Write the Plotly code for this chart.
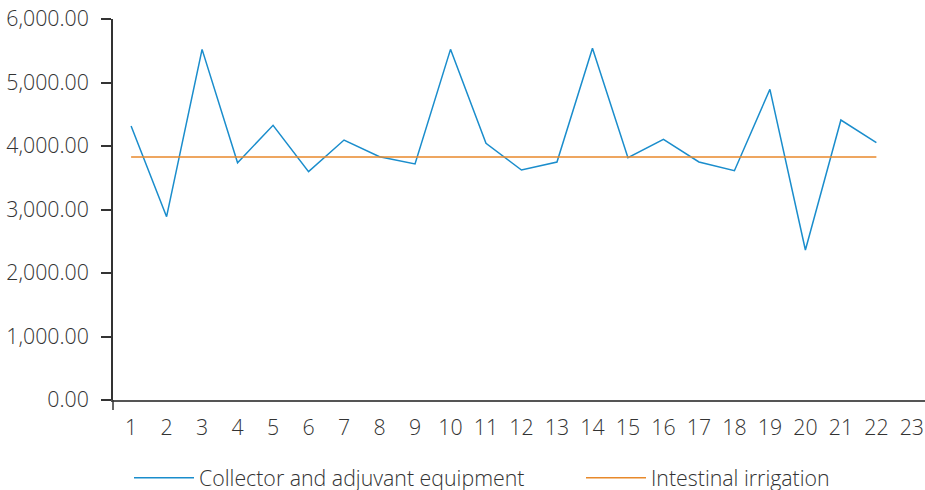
import plotly.graph_objects as go

categories = [str(i) for i in range(1, 24)]
collector = [4315, 2887, 5522, 3737, 4326, 3596, 4094, 3832, 3717, 5522, 4042,
             3622, 3748, 5538, 3816, 4105, 3748, 3611, 4893, 2362, 4409, 4052]
irrigation = [3827] * 22
y_ticks = [0, 1000, 2000, 3000, 4000, 5000, 6000]

fig = go.Figure()
fig.add_trace(go.Scatter(x=categories[:22], y=collector, mode="lines",
                         name="Collector and adjuvant equipment",
                         line=dict(color="#1a8dcc", width=1.5), legend="legend"))
fig.add_trace(go.Scatter(x=categories[:22], y=irrigation, mode="lines",
                         name="Intestinal irrigation",
                         line=dict(color="#e8892b", width=1.5), legend="legend2"))

font = dict(family="Open Sans", size=21.33, color="#333333", weight=300)
W, H = 925, 490
leg_common = dict(orientation="h", xref="container", yref="container",
                  xanchor="left", yanchor="middle", itemwidth=60, font=font,
                  bgcolor="rgba(0,0,0,0)")
fig.update_layout(
    width=W, height=H,
    margin=dict(l=113, r=0, t=19, b=90, autoexpand=False),
    plot_bgcolor="white", paper_bgcolor="white",
    font=font,
    showlegend=True,
    legend=dict(x=129 / W, y=12 / H, **leg_common),
    legend2=dict(x=581 / W, y=12 / H, **leg_common),
    xaxis=dict(type="category", categoryorder="array", categoryarray=categories,
               range=[-0.51, 22.37], showgrid=False, showline=True,
               linecolor="#555555", linewidth=2, ticks="", tickfont=font,
               automargin=False, ticklabelstandoff=7),
    yaxis=dict(range=[0, 6000], tickmode="array", tickvals=y_ticks,
               tickformat=",.2f", showgrid=False,
               showline=True, linecolor="#333333", linewidth=1.5,
               ticks="outside", ticklen=10, tickcolor="#333333", tickwidth=1.5,
               zeroline=False, tickfont=font, automargin=False,
               ticklabelstandoff=8),
)
fig.add_shape(type="line", xref="paper", yref="paper", x0=0, x1=0, y0=0, y1=-10/381,
              line=dict(color="#333333", width=1.5))
fig.write_html("out.html", config={"displayModeBar": False},
               post_script="document.body.style.margin='0';document.body.style.overflow='hidden';")
